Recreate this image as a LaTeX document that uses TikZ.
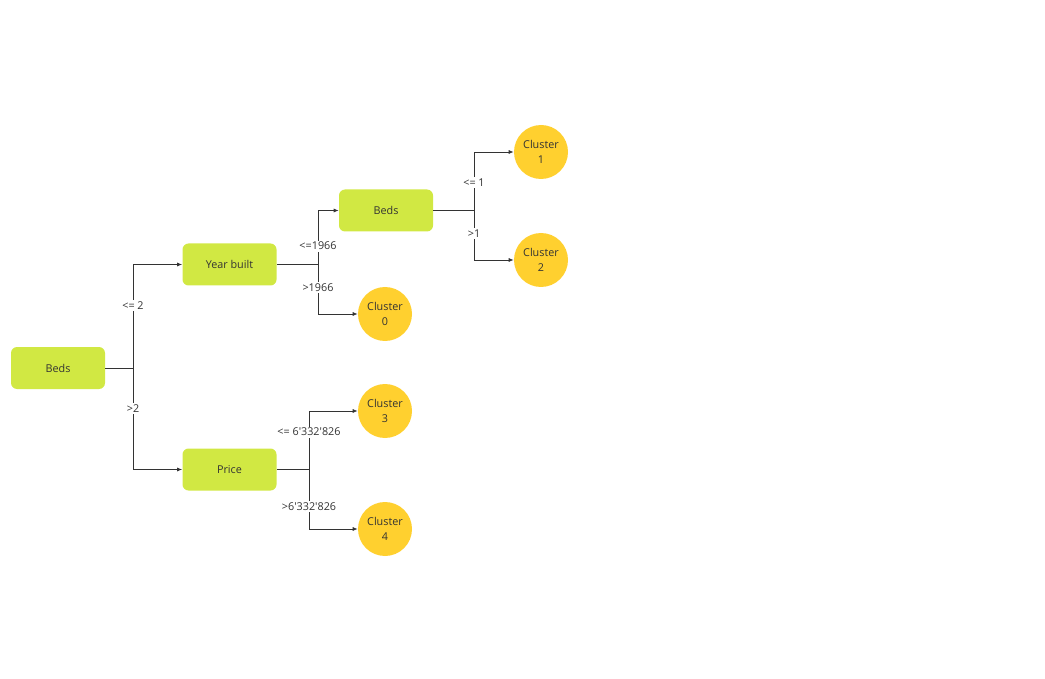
\documentclass[tikz,border=0pt]{standalone}
\usepackage{fontspec}
\setmainfont{Open Sans}
\usetikzlibrary{arrows.meta}
\definecolor{lime}{HTML}{D1E843}
\definecolor{amber}{HTML}{FFD02F}
\definecolor{ink}{HTML}{333333}
\newcommand\qt{\textquotesingle}
\begin{document}
\begin{tikzpicture}[x=1pt, y=-1pt, line width=0.7pt, draw=ink, text=ink,
  font=\fontsize{10.8}{15}\selectfont,
  test/.style={fill=lime, rounded corners=6pt, minimum width=94pt, minimum height=42pt},
  leaf/.style={circle, fill=amber, minimum size=54pt, inner sep=0pt, align=center},
  cond/.style={fill=white, inner sep=1.5pt},
  link/.style={-{Latex[length=5pt, width=4pt]}}]
  \useasboundingbox (0,0) rectangle (1045,679);
  \node[test] (bedsA) at (58,368) {Beds};
  \node[test] (year) at (229.5,264.5) {Year built};
  \node[test] (price) at (229.5,469.5) {Price};
  \node[test] (bedsB) at (386,210.5) {Beds};
  \node[leaf] (c0) at (385,314) {Cluster\\0};
  \node[leaf] (c1) at (541,152) {Cluster\\1};
  \node[leaf] (c2) at (541,260) {Cluster\\2};
  \node[leaf] (c3) at (385,411) {Cluster\\3};
  \node[leaf] (c4) at (385,529) {Cluster\\4};
  \coordinate (jA) at (133,368);
  \coordinate (jY) at (318,264.5);
  \coordinate (jP) at (309,469.5);
  \coordinate (jB) at (474,210.5);
  \draw (bedsA.east) -- (jA);
  \draw[link] (jA) |- (year.west) node[cond, pos=.3] {<= 2};
  \draw[link] (jA) |- (price.west) node[cond, pos=.2] {>2};
  \draw (year.east) -- (jY);
  \draw[link] (jY) |- (bedsB.west) node[cond, pos=.17] {<=1966};
  \draw[link] (jY) |- (c0.west) node[cond, pos=.23] {>1966};
  \draw (price.east) -- (jP);
  \draw[link] (jP) |- (c3.west) node[cond, pos=.32] {<= 6\qt332\qt826};
  \draw[link] (jP) |- (c4.west) node[cond, pos=.31] {>6\qt332\qt826};
  \draw (bedsB.east) -- (jB);
  \draw[link] (jB) |- (c1.west) node[cond, pos=.24] {<= 1};
  \draw[link] (jB) |- (c2.west) node[cond, pos=.23] {>1};
\end{tikzpicture}
\end{document}
